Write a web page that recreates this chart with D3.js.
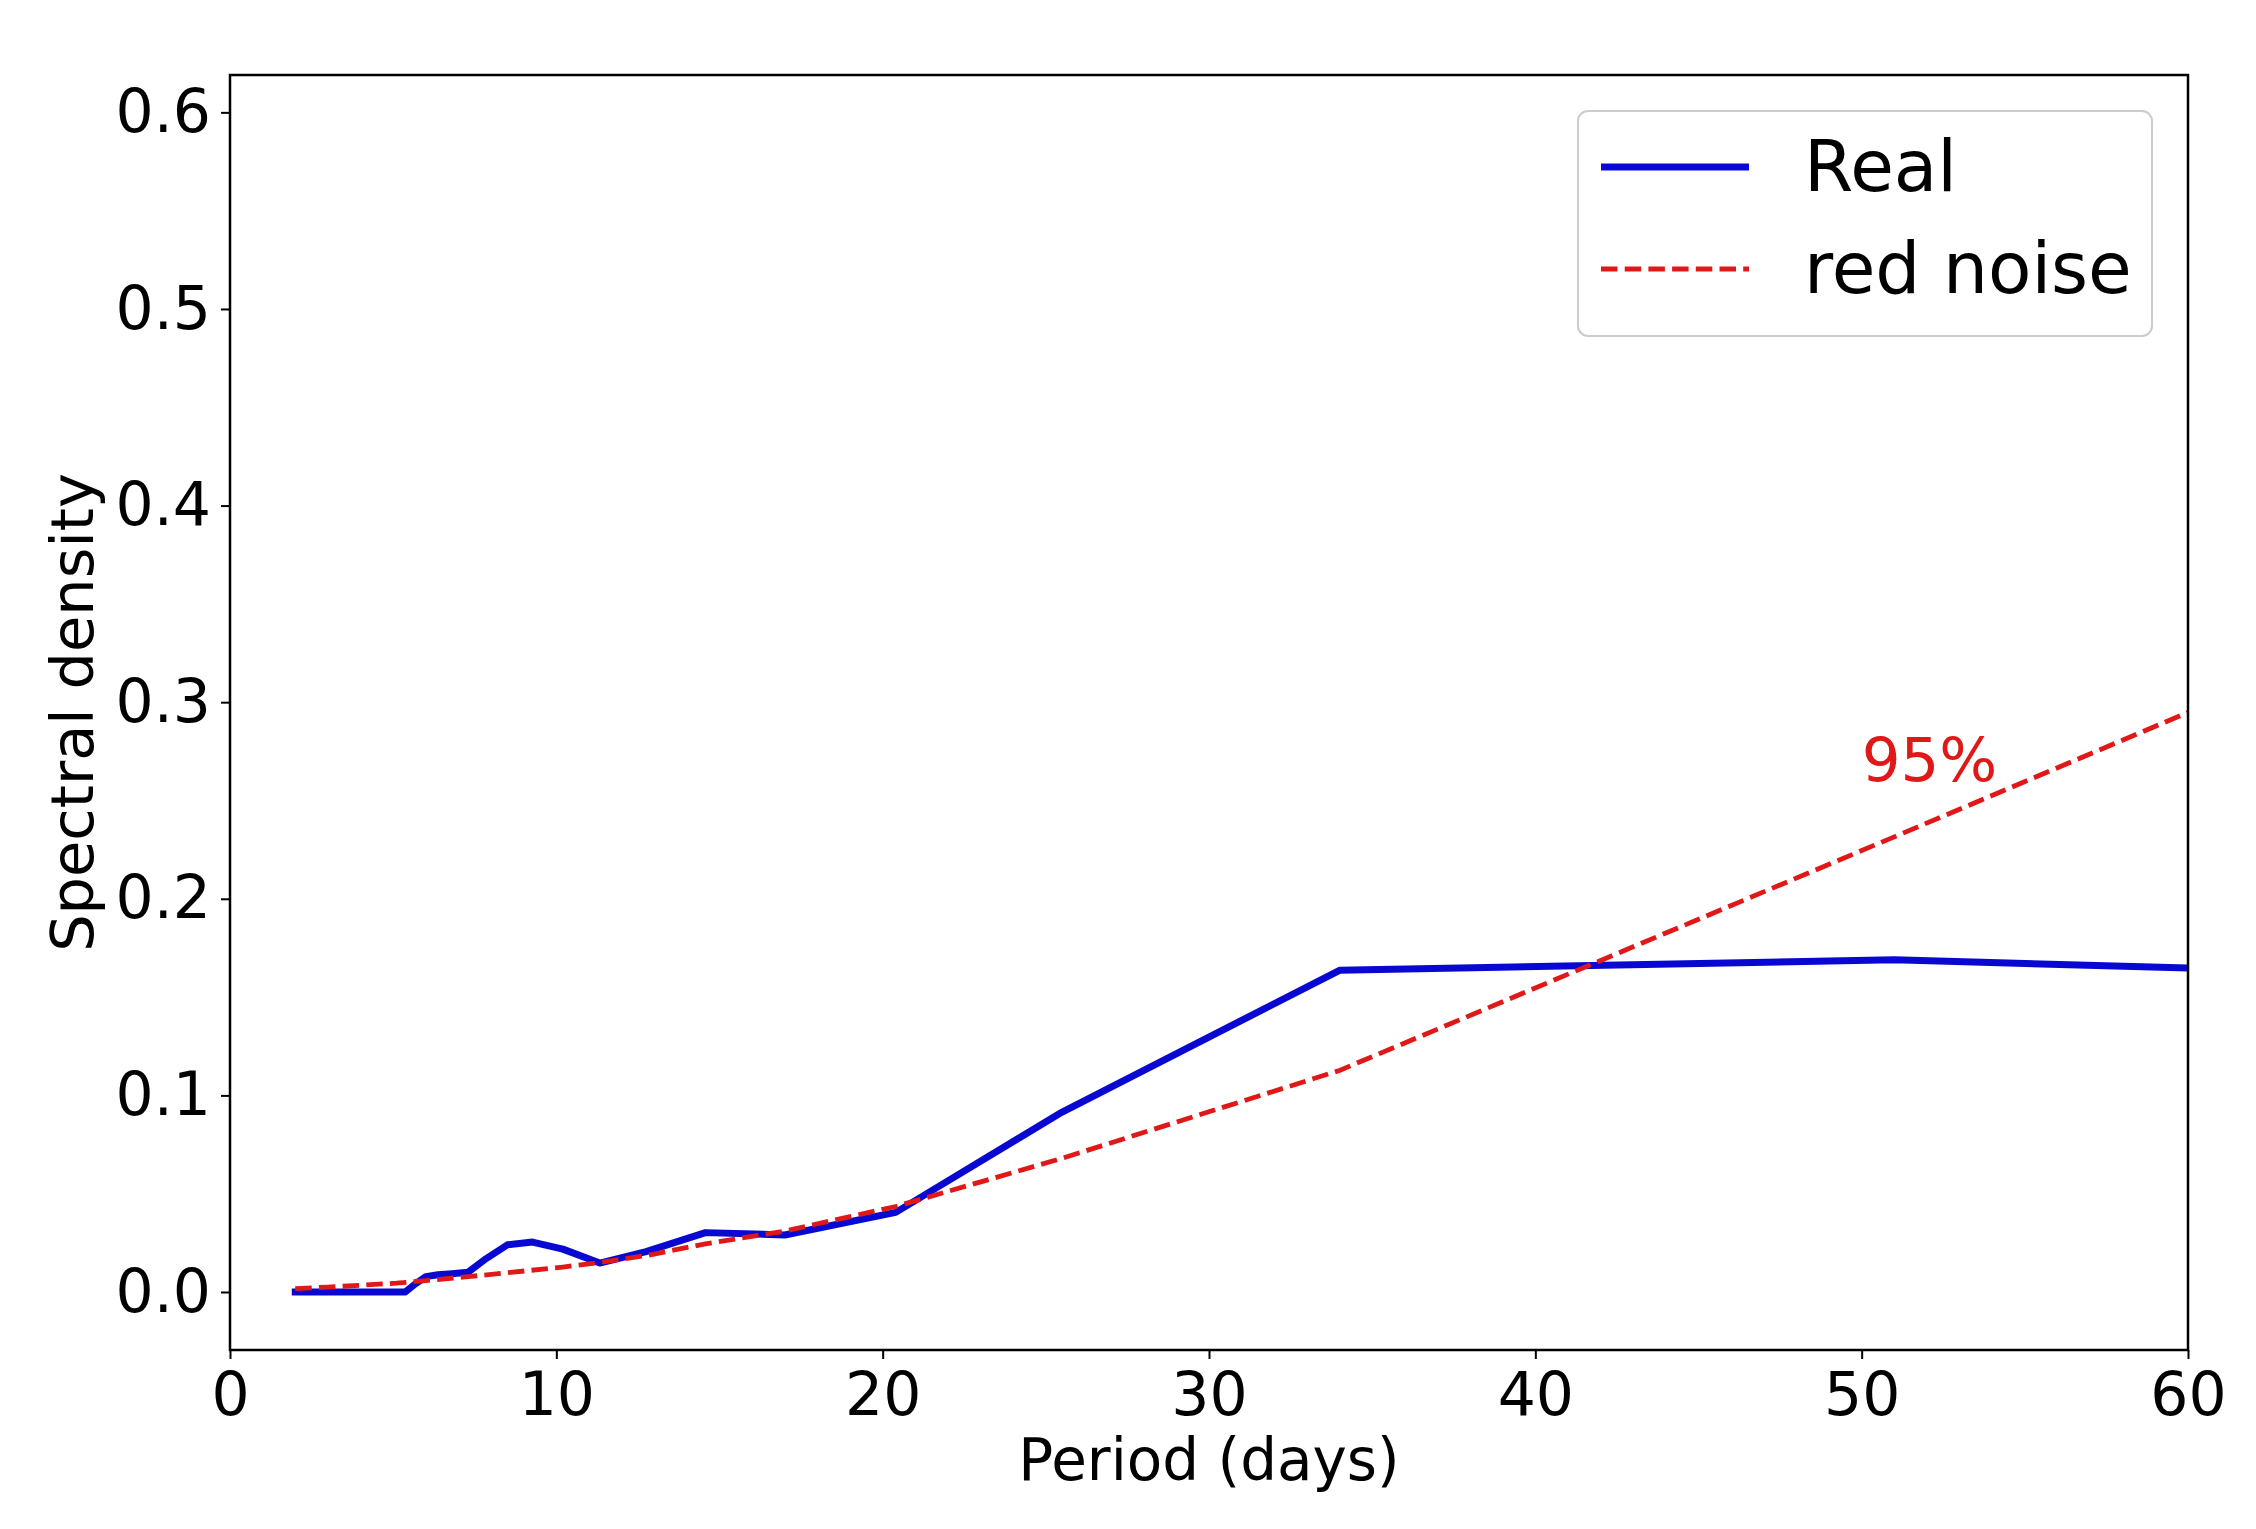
<!DOCTYPE html>
<html>
<head>
<meta charset="utf-8">
<script src="https://cdn.jsdelivr.net/npm/d3@7"></script>
<style>
  html, body { margin: 0; padding: 0; background: #fff; }
  svg { display: block; }
  text { font-family: "DejaVu Sans", sans-serif; }
</style>
</head>
<body>
<script>
// ---- data ----
const realPeriod = [2.0, 5.37, 5.67, 6.0, 6.375, 6.8, 7.29, 7.85, 8.5, 9.27, 10.2, 11.33, 12.75, 14.57, 17.0, 20.4, 25.5, 34.0, 51.0, 102.0];
const realValue  = [0.000, 0.000, 0.004, 0.0078, 0.0088, 0.0093, 0.0100, 0.0170, 0.0240, 0.0254, 0.0218, 0.0147, 0.0205, 0.0302, 0.0290, 0.0405, 0.0915, 0.1636, 0.1690, 0.1450];

const noisePeriod = [2.0, 3.0, 4.08, 5.1, 6.0, 7.29, 8.5, 10.2, 11.33, 12.75, 14.57, 17.0, 20.4, 25.5, 34.0, 51.0, 102.0];
const noiseValue  = [0.0017, 0.0025, 0.0035, 0.0045, 0.0058, 0.0078, 0.0098, 0.0127, 0.0150, 0.0185, 0.0245, 0.0310, 0.0435, 0.0680, 0.1127, 0.2315, 0.5900];

const xTicks = [0, 10, 20, 30, 40, 50, 60];
const yTicks = [0.0, 0.1, 0.2, 0.3, 0.4, 0.5, 0.6];
const xDomain = [0, 60];
const yDomain = [-0.0295, 0.6190];

const seriesNames = ["Real", "red noise"];
const annotation = { text: "95%", x: 50, y: 0.26 };

// ---- layout ----
const W = 2256, H = 1529;
const plot = { left: 230, top: 75, right: 2188, bottom: 1350 };

const svg = d3.select("body").append("svg")
  .attr("width", W).attr("height", H)
  .attr("viewBox", `0 0 ${W} ${H}`);

svg.append("rect").attr("width", W).attr("height", H).attr("fill", "#fff");

const x = d3.scaleLinear().domain(xDomain).range([plot.left, plot.right]);
const y = d3.scaleLinear().domain(yDomain).range([plot.bottom, plot.top]);

svg.append("defs").append("clipPath").attr("id", "clip")
  .append("rect")
  .attr("x", plot.left).attr("y", plot.top)
  .attr("width", plot.right - plot.left).attr("height", plot.bottom - plot.top);

const g = svg.append("g").attr("clip-path", "url(#clip)");

const line = d3.line().x(d => x(d[0])).y(d => y(d[1]));

const realData = realPeriod.map((p, i) => [p, realValue[i]]);
const noiseData = noisePeriod.map((p, i) => [p, noiseValue[i]]);

const blue = "#0808d2";
const red = "#e01818";

g.append("path").datum(realData)
  .attr("d", line)
  .attr("fill", "none")
  .attr("stroke", blue)
  .attr("stroke-width", 7)
  .attr("stroke-linejoin", "round")
  .attr("stroke-linecap", "square");

g.append("path").datum(noiseData)
  .attr("d", line)
  .attr("fill", "none")
  .attr("stroke", red)
  .attr("stroke-width", 4.8)
  .attr("stroke-dasharray", "16.5,7.2")
  .attr("stroke-linejoin", "round");

// annotation
svg.append("text")
  .attr("x", x(annotation.x)).attr("y", y(annotation.y))
  .attr("fill", red)
  .attr("font-size", 61)
  .text(annotation.text);

// ---- axes ----
const tickFont = 60;
const xAxis = d3.axisBottom(x).tickValues(xTicks).tickFormat(d3.format("d"))
  .tickSize(9).tickPadding(10);
const yAxis = d3.axisLeft(y).tickValues(yTicks).tickFormat(d3.format(".1f"))
  .tickSize(9).tickPadding(10);

const gx = svg.append("g").attr("transform", `translate(0,${plot.bottom})`).call(xAxis);
const gy = svg.append("g").attr("transform", `translate(${plot.left},0)`).call(yAxis);

[gx, gy].forEach(a => {
  a.select(".domain").remove();
  a.selectAll(".tick line").attr("stroke", "#000").attr("stroke-width", 2);
  a.selectAll(".tick text").attr("fill", "#000").attr("font-size", tickFont)
    .attr("font-family", "DejaVu Sans");
});
gx.selectAll(".tick text").attr("dy", "0.76em");

// frame
svg.append("rect")
  .attr("x", plot.left).attr("y", plot.top)
  .attr("width", plot.right - plot.left).attr("height", plot.bottom - plot.top)
  .attr("fill", "none").attr("stroke", "#000").attr("stroke-width", 2.5);

// axis labels
svg.append("text")
  .attr("x", (plot.left + plot.right) / 2).attr("y", 1480)
  .attr("text-anchor", "middle")
  .attr("font-size", 58)
  .attr("fill", "#000")
  .text("Period (days)");

svg.append("text")
  .attr("transform", `translate(93,${(plot.top + plot.bottom) / 2}) rotate(-90)`)
  .attr("text-anchor", "middle")
  .attr("font-size", 59)
  .attr("fill", "#000")
  .text("Spectral density");

// ---- legend ----
const lg = svg.append("g");
lg.append("rect")
  .attr("x", 1578).attr("y", 111).attr("width", 574).attr("height", 225)
  .attr("rx", 10).attr("ry", 10)
  .attr("fill", "#fff").attr("fill-opacity", 0.8)
  .attr("stroke", "#cccccc").attr("stroke-width", 2);

const legendItems = [
  { name: seriesNames[0], color: blue, width: 7, dash: null, yy: 167 },
  { name: seriesNames[1], color: red, width: 4.8, dash: "16.5,7.2", yy: 269 }
];
legendItems.forEach(it => {
  lg.append("line")
    .attr("x1", 1601).attr("x2", 1749).attr("y1", it.yy).attr("y2", it.yy)
    .attr("stroke", it.color).attr("stroke-width", it.width)
    .attr("stroke-dasharray", it.dash);
  lg.append("text")
    .attr("x", 1804).attr("y", it.yy + 24)
    .attr("font-size", 71).attr("fill", "#000")
    .text(it.name);
});
</script>
</body>
</html>
